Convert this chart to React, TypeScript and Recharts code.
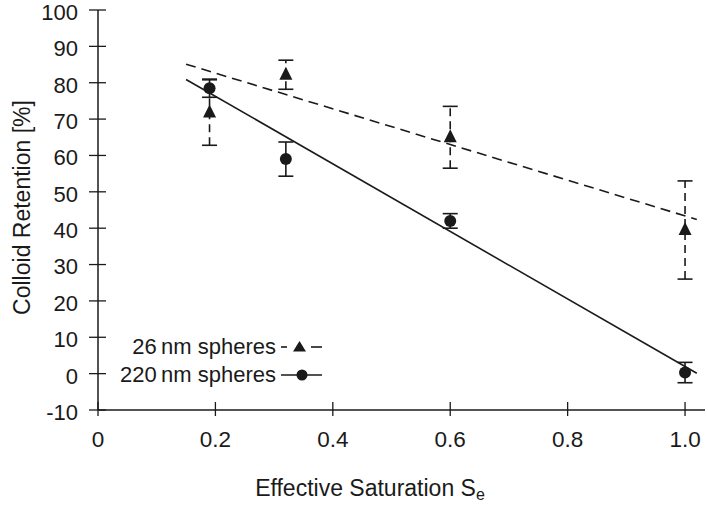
import { ComposedChart, Scatter, XAxis, YAxis, ErrorBar } from 'recharts'

// effective saturation of the four experiments
const saturation = [0.19, 0.32, 0.6, 1.0]

// 26 nm spheres
const smallRetention = [71.8, 82.2, 65, 39.5]
const smallError = [9, 4, 8.5, 13.5]

// 220 nm spheres
const largeRetention = [78.5, 59, 42, 0.3]
const largeError = [2.5, 4.7, 2, 2.8]

// linear fits (end points)
const fitSaturation = [0.15, 1.02]
const smallFit = [85.1, 42.4]
const largeFit = [80.9, 0.1]

const xTicks = [0, 0.2, 0.4, 0.6, 0.8, 1.0]
const yTicks = [-10, 0, 10, 20, 30, 40, 50, 60, 70, 80, 90, 100]

const FONT = '"Liberation Sans", Arial, sans-serif'
const INK = '#1a1a1a'

const smallData = saturation.map((x, i) => ({ x, y: smallRetention[i], err: smallError[i] }))
const largeData = saturation.map((x, i) => ({ x, y: largeRetention[i], err: largeError[i] }))
const smallCaps = saturation.flatMap((x, i) => [
  { x, y: smallRetention[i] + smallError[i] },
  { x, y: smallRetention[i] - smallError[i] },
])
const smallFitData = fitSaturation.map((x, i) => ({ x, y: smallFit[i] }))
const largeFitData = fitSaturation.map((x, i) => ({ x, y: largeFit[i] }))

const Triangle = (props: any) => {
  const { cx, cy } = props
  return <polygon points={`${cx},${cy - 8} ${cx - 6.5},${cy + 5} ${cx + 6.5},${cy + 5}`} fill={INK} />
}

const Dot = (props: any) => <circle cx={props.cx} cy={props.cy} r={6} fill={INK} />

const Cap = (props: any) => (
  <line x1={props.cx - 7.5} x2={props.cx + 7.5} y1={props.cy} y2={props.cy} stroke={INK} strokeWidth={1.6} />
)

const Nothing = () => <g />

const YTick = (props: any) => {
  const { x, y, payload } = props
  return (
    <g>
      <line x1={x - 9} x2={x + 8} y1={y} y2={y} stroke={INK} strokeWidth={1.3} />
      <text x={x - 20} y={y} dy="0.45em" textAnchor="end" fontSize={22} fontFamily={FONT} fill={INK}>
        {payload.value}
      </text>
    </g>
  )
}

const XTick = (props: any) => {
  const { x, y, payload } = props
  const label = payload.value === 0 ? '0' : payload.value.toFixed(1)
  return (
    <g>
      <line x1={x} x2={x} y1={y - 8} y2={y + 6} stroke={INK} strokeWidth={1.3} />
      <text x={x} y={y + 37} textAnchor="middle" fontSize={22.5} fontFamily={FONT} fill={INK}>
        {label}
      </text>
    </g>
  )
}

export default function App() {
  return (
    <div style={{ position: 'absolute', left: 0, top: 0, width: 708, height: 506, background: '#fff' }}>
      <ComposedChart width={708} height={506} margin={{ top: 10, right: 3, left: 0, bottom: 0 }}>
        <XAxis
          type="number"
          dataKey="x"
          domain={[0, 1.034]}
          ticks={xTicks}
          tick={<XTick />}
          tickLine={false}
          tickSize={0}
          tickMargin={0}
          height={96}
          axisLine={{ stroke: INK, strokeWidth: 1.5 }}
          allowDataOverflow
        />
        <YAxis
          type="number"
          dataKey="y"
          domain={[-10, 100]}
          ticks={yTicks}
          tick={<YTick />}
          tickLine={false}
          tickSize={0}
          tickMargin={0}
          width={98}
          axisLine={{ stroke: INK, strokeWidth: 1.5 }}
          allowDataOverflow
        />
        <Scatter
          data={smallFitData}
          dataKey="y"
          line={{ stroke: INK, strokeWidth: 1.6, strokeDasharray: '10 6' }}
          shape={<Nothing />}
          isAnimationActive={false}
        />
        <Scatter
          data={largeFitData}
          dataKey="y"
          line={{ stroke: INK, strokeWidth: 1.6 }}
          shape={<Nothing />}
          isAnimationActive={false}
        />
        <Scatter data={smallCaps} dataKey="y" shape={<Cap />} isAnimationActive={false} />
        <Scatter data={smallData} dataKey="y" shape={<Triangle />} isAnimationActive={false}>
          <ErrorBar dataKey="err" direction="y" width={0} stroke={INK} strokeWidth={1.6} strokeDasharray="8 5" isAnimationActive={false} />
        </Scatter>
        <Scatter data={largeData} dataKey="y" shape={<Dot />} isAnimationActive={false}>
          <ErrorBar dataKey="err" direction="y" width={7.5} stroke={INK} strokeWidth={1.6} isAnimationActive={false} />
        </Scatter>
      </ComposedChart>

      {/* axis titles and legend */}
      <svg
        width={708}
        height={506}
        style={{ position: 'absolute', left: 0, top: 0, pointerEvents: 'none' }}
        fontFamily={FONT}
        fill={INK}
      >
        <text x={370} y={496} textAnchor="middle" fontSize={23}>
          Effective Saturation S<tspan fontSize={16} dy={4}>e</tspan>
        </text>
        <text transform="translate(30,207.5) rotate(-90)" textAnchor="middle" fontSize={23}>
          Colloid Retention [%]
        </text>

        <text x={276} y={354} textAnchor="end" fontSize={22}>26&#8201;nm spheres</text>
        <line x1={281} x2={287} y1={347} y2={347} stroke={INK} strokeWidth={1.6} />
        <polygon points="299.5,341 293,351.5 306,351.5" fill={INK} />
        <line x1={311} x2={322} y1={347} y2={347} stroke={INK} strokeWidth={1.6} />

        <text x={276} y={382} textAnchor="end" fontSize={22}>220&#8201;nm spheres</text>
        <line x1={281} x2={322} y1={375} y2={375} stroke={INK} strokeWidth={1.6} />
        <circle cx={302} cy={375} r={5.5} fill={INK} />
      </svg>
    </div>
  )
}
